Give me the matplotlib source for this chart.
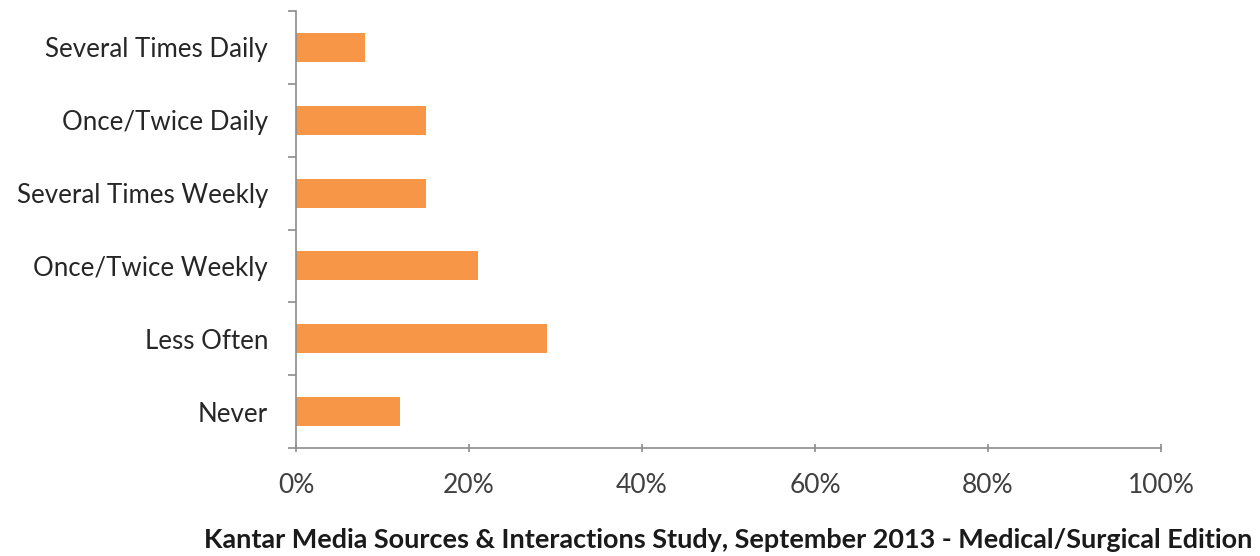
import matplotlib
matplotlib.use("Agg")
import matplotlib.pyplot as plt
from matplotlib.ticker import FuncFormatter, FixedLocator

categories = ["Several Times Daily", "Once/Twice Daily", "Several Times Weekly",
              "Once/Twice Weekly", "Less Often", "Never"]
values = [8, 15, 15, 21, 29, 12]
x_ticks = [0, 20, 40, 60, 80, 100]
source = "Kantar Media Sources & Interactions Study, September 2013 - Medical/Surgical Edition"

plt.rcParams['font.family'] = ['Lato', 'DejaVu Sans']

fig = plt.figure(figsize=(12.6, 5.56), dpi=100)
ax = fig.add_axes([296/1260, 108/556, (1161-296)/1260, (448-11)/556])

n = len(categories)
ypos = list(range(n - 1, -1, -1))
ax.barh(ypos, values, height=0.4, color="#F79646", zorder=2)

ax.set_xlim(0, 100)
ax.set_ylim(-0.5, n - 0.5)
ax.set_xticks(x_ticks)
ax.xaxis.set_major_formatter(FuncFormatter(lambda v, p: f"{int(v)}%"))
ax.set_yticks(ypos)
ax.set_yticklabels(categories)
ax.yaxis.set_minor_locator(FixedLocator([i - 0.5 for i in range(n + 1)]))

for s in ["top", "right"]:
    ax.spines[s].set_visible(False)
for s in ["left", "bottom"]:
    ax.spines[s].set_color("#8c8c8c")
    ax.spines[s].set_linewidth(1.2)

ax.tick_params(axis="y", which="major", length=0, pad=20, labelsize=18.6, labelcolor="#262626")
ax.tick_params(axis="y", which="minor", length=6, color="#8c8c8c", width=1.2, direction="out")
ax.tick_params(axis="x", which="major", length=6, color="#8c8c8c", width=1.2, direction="inout",
               pad=15, labelsize=19, labelcolor="#404040")

fig.text(1252/1260, 1 - 540/556, source, ha="right", va="center",
         fontsize=19.45, fontweight="bold", color="#1a1a1a")

fig.savefig("out.png", dpi=100)
